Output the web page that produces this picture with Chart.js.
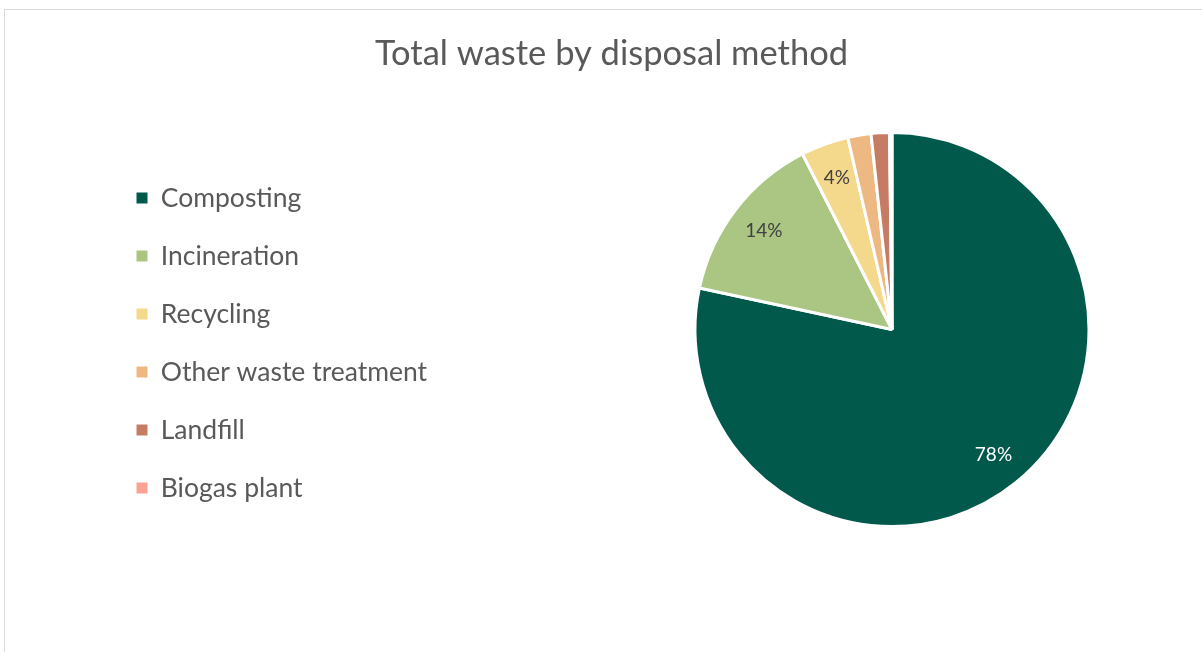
<!DOCTYPE html>
<html>
<head>
<meta charset="utf-8">
<script src="https://cdn.jsdelivr.net/npm/chart.js@4.4.0/dist/chart.umd.min.js"></script>
<style>
  html, body { margin: 0; padding: 0; background: #fff; overflow: hidden; }
  #frame { position: absolute; left: 4px; top: 9px; width: 1300px; height: 800px; border: 1px solid #d9d9d9; }
  #wrap { position: absolute; left: 0; top: 0; width: 1223px; height: 652px; }
</style>
</head>
<body>
<div id="frame"></div>
<div id="wrap"><canvas id="wasteChart"></canvas></div>
<script>
const labels = ['Composting', 'Incineration', 'Recycling', 'Other waste treatment', 'Landfill', 'Biogas plant'];
const shares = [78.3, 14.1, 3.9, 1.9, 1.5, 0.2];
const colors = ['#00594b', '#abc582', '#f4d88b', '#eeb882', '#c67c64', '#faa394'];
const labelColors = ['#ffffff', '#404040', '#404040', '#404040', '#404040', '#404040'];

// percent labels inside the slices (only the bigger ones, like the original)
const sliceLabels = {
  id: 'sliceLabels',
  afterDatasetsDraw(chart) {
    const ctx = chart.ctx;
    const meta = chart.getDatasetMeta(0);
    const total = shares.reduce((a, b) => a + b, 0);
    ctx.save();
    ctx.font = '19px Lato';
    ctx.textAlign = 'center';
    ctx.textBaseline = 'middle';
    meta.data.forEach((arc, i) => {
      const pct = shares[i] / total * 100;
      if (pct < 3.5) return;
      const mid = (arc.startAngle + arc.endAngle) / 2;
      const r = arc.outerRadius * 0.82;
      ctx.fillStyle = labelColors[i];
      ctx.fillText(Math.round(pct) + '%', arc.x + Math.cos(mid) * r, arc.y + Math.sin(mid) * r);
    });
    ctx.restore();
  }
};

// legend sits further left than chart.js would put it, title centred on the whole canvas
const layoutNudge = {
  id: 'layoutNudge',
  afterLayout(chart) {
    const lg = chart.legend;
    lg.left = 105; lg.right = 560;
    lg.top += 79; lg.bottom += 79;
    const tb = chart.titleBlock;
    tb.left = 0; tb.right = chart.width;
  }
};

new Chart(document.getElementById('wasteChart'), {
  type: 'pie',
  data: {
    labels: labels,
    datasets: [{
      data: shares,
      backgroundColor: colors,
      borderColor: '#ffffff',
      borderWidth: 3
    }]
  },
  plugins: [sliceLabels, layoutNudge],
  options: {
    responsive: true,
    maintainAspectRatio: false,
    animation: false,
    layout: { padding: { left: 361, right: 0, top: 0, bottom: 124 } },
    plugins: {
      title: {
        display: true,
        text: 'Total waste by disposal method',
        color: '#595959',
        font: { family: 'Lato', size: 34.5, weight: 'normal', lineHeight: 1.2 },
        padding: { top: 33.3, bottom: 56.3 }
      },
      legend: {
        position: 'left',
        maxWidth: 200,
        labels: {
          color: '#595959',
          font: { family: 'Lato', size: 26.5 },
          boxWidth: 11,
          boxHeight: 11,
          padding: 31.5,
          generateLabels(chart) {
            return Chart.overrides.pie.plugins.legend.labels.generateLabels(chart)
              .map(l => Object.assign(l, { lineWidth: 0 }));
          }
        }
      },
      tooltip: { enabled: false }
    }
  }
});
</script>
</body>
</html>
